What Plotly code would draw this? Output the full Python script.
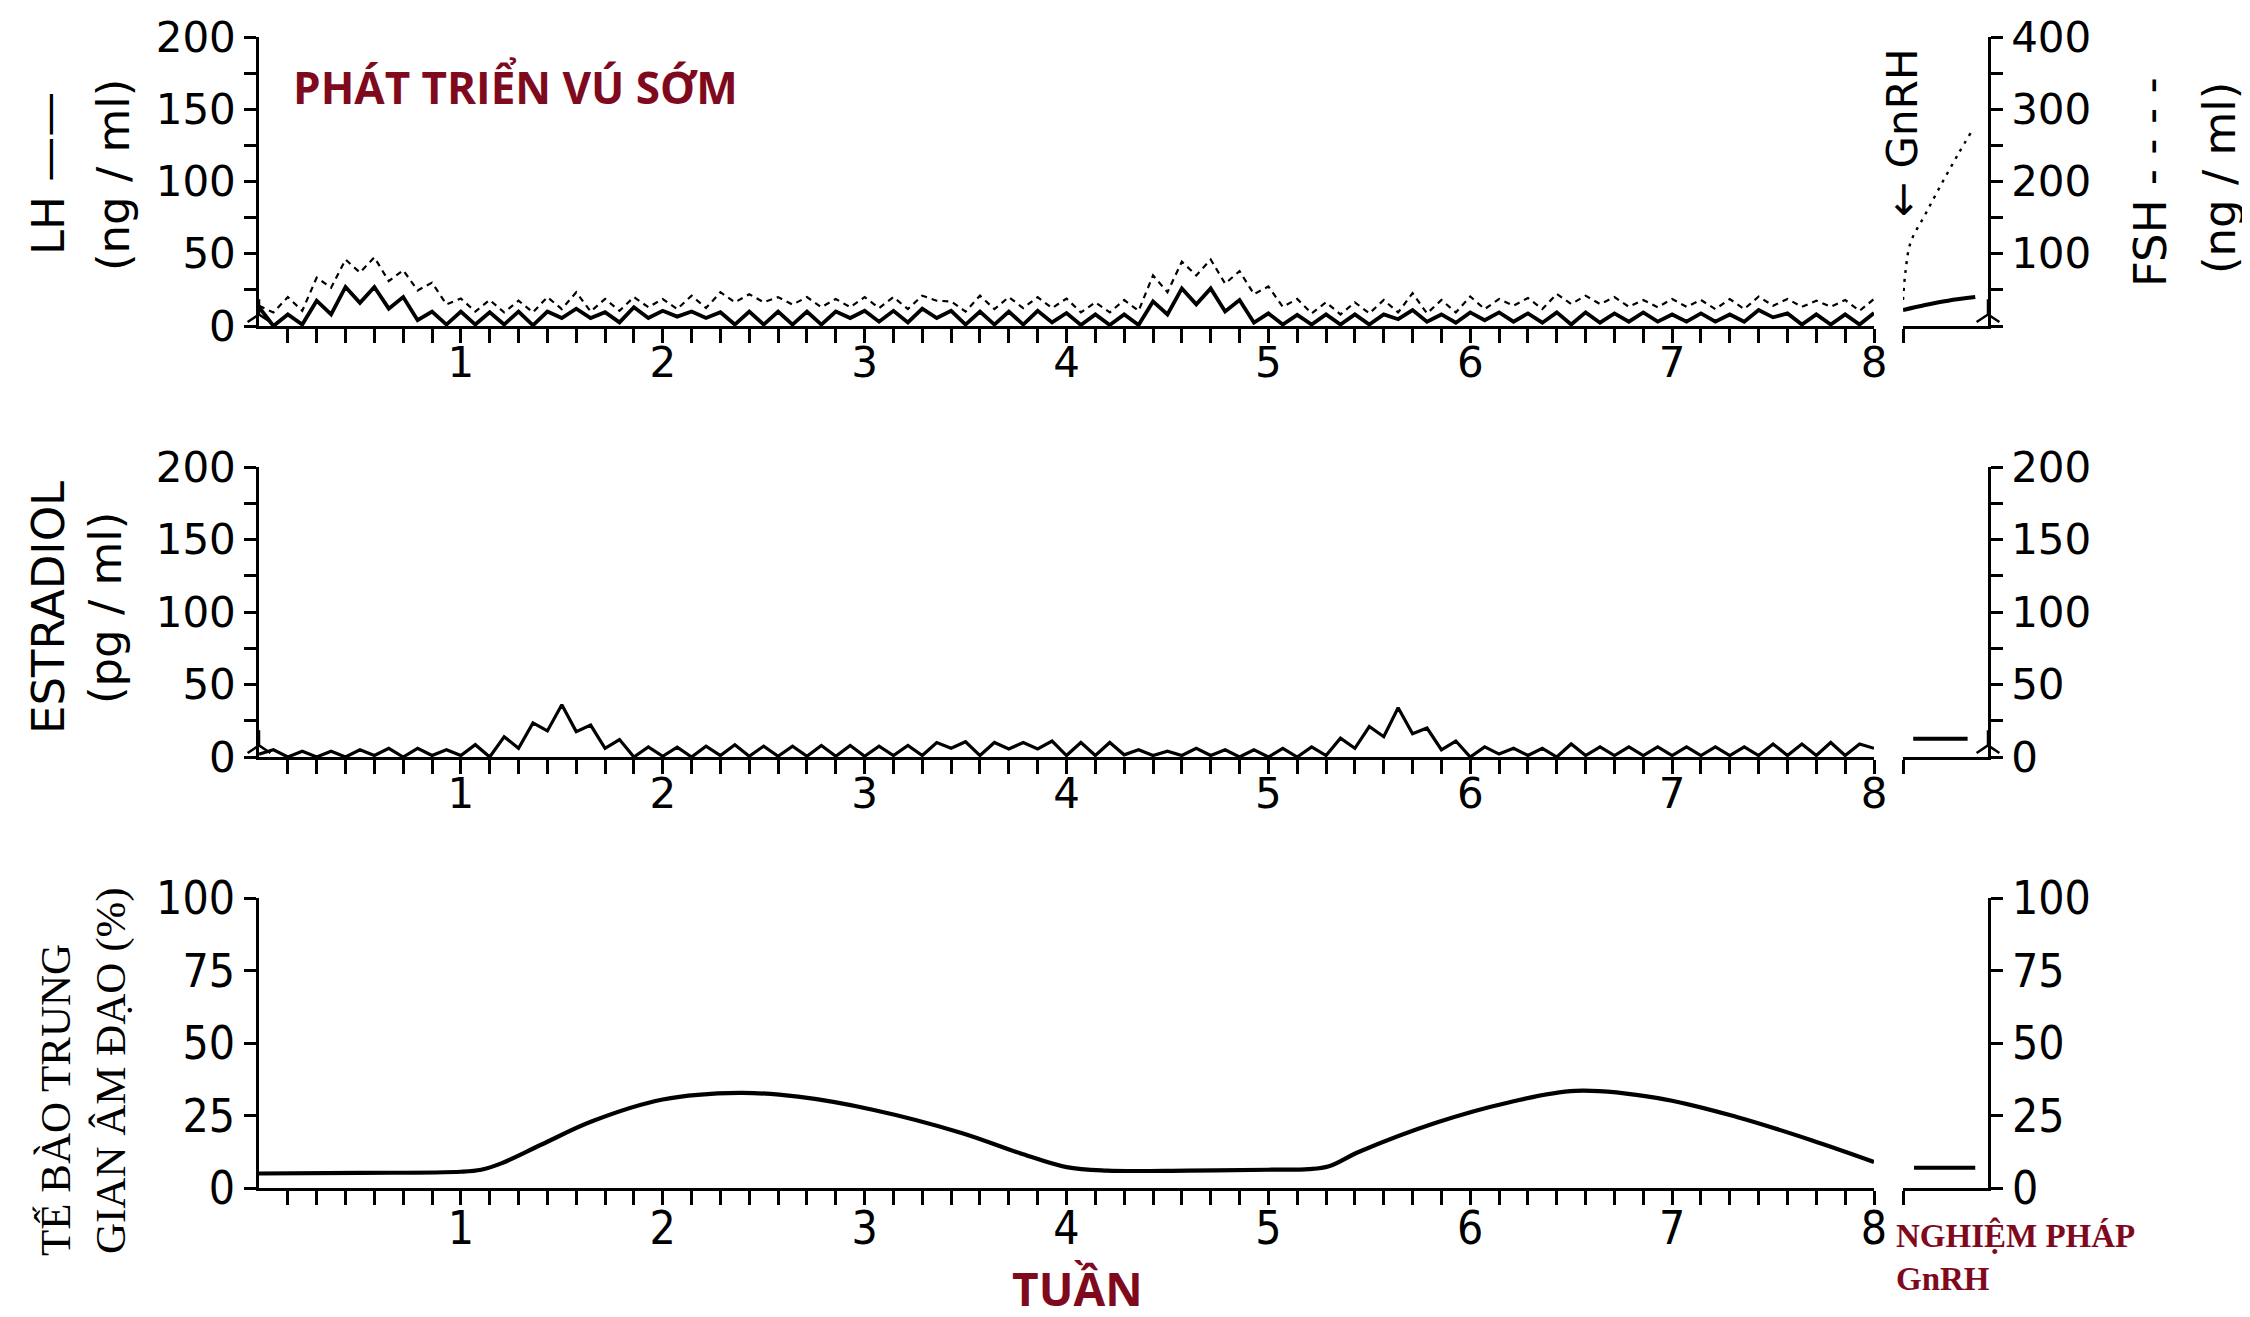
import plotly.graph_objects as go

# ---- data --------------------------------------------------------------
# blood samples every half day over 8 weeks -> 113 samples, x in weeks
SAMPLE_WEEKS = [k / 14 for k in range(113)]

LH = [13, 0, 8, 1, 17.5, 8, 27, 16, 27, 12, 20, 4, 10, 1, 10, 1, 9.5, 1, 10, 0.5,
      10, 5.5, 12, 5.5, 9.5, 2.5, 13, 5.5, 10.5, 6.5, 10, 5.5, 9.5, 1, 10, 1, 10, 1,
      10, 1, 10, 5.5, 10.5, 3, 10.5, 2.5, 12, 5.5, 10.5, 1, 10, 1, 10, 1, 10.5, 2.5, 9,
      0.7, 8, 0.7, 8, 0.7, 17, 8, 26, 15, 26, 10, 18, 2.3, 8.7, 1, 7.7, 1, 8, 1, 8, 1,
      8, 4.7, 11, 3, 8, 2.3, 9.4, 4, 9.4, 3, 8.7, 2.3, 9.4, 1, 9.4, 2.3, 8.7, 3, 9.4,
      3, 8, 3, 8.7, 3, 8, 3, 11, 6, 8.7, 1, 8, 1, 8, 1, 9]

FSH = [14, 9.4, 20, 10.5, 33.5, 26.5, 46, 37, 47.5, 31, 38.6, 24.6, 30, 15, 19, 10,
       18, 9.4, 17.5, 9.4, 20, 11.7, 23.4, 10, 18.7, 10.5, 20, 13, 18.7, 11.7, 21,
       12.4, 23.4, 16.4, 22, 16.4, 20, 14.8, 20, 13, 18.7, 13, 20, 12.4, 20, 11.7, 21,
       17.5, 17, 10, 21, 11.7, 20, 12.4, 20, 12.4, 19,
       9.4, 16.4, 9.4, 18, 10.5, 35, 23.4, 44.5, 35, 46, 29.3, 38, 22, 27.4, 13.3,
       18.7, 8.7, 16.4, 8, 16.4, 8.7, 18, 9.4, 22.7, 8.7, 18, 9.4, 20.4, 11.7, 18.7,
       14, 19.4, 11.7, 22.2, 15.2, 21, 15.2, 20, 13.3, 18, 13, 18.7, 13.3, 18, 11.7,
       18.7, 11.7, 20.4, 14, 18.7, 13.3, 17.5, 13.3, 18, 10.5, 18.7]

ESTRADIOL = [2, 5, 0, 4, 0, 4, 0, 5, 1, 6, 0, 6, 1, 5, 1,
             8.5, 0, 14, 6, 23.5, 18, 36, 17.5, 22, 6, 12, 0, 7, 0.5,
             6.75, 0, 7.5, 1, 8.5, 0.5, 7.5, 0.5, 7.5, 0.5, 8, 0.5, 8, 0.5, 7.5, 1, 8,
             1, 10, 6, 10.5, 1, 10, 5.5, 10, 5.5, 11, 1, 10, 1, 10, 1.5, 5, 1, 4, 1, 6,
             1, 5,
             0, 5, 0, 6, 0, 7, 1, 13, 6, 21, 14, 34, 16, 20, 5, 11, 0, 7, 2, 6, 1, 6, 0,
             9, 1, 7, 1, 7, 1, 7, 1, 7, 1, 7, 1, 7, 1, 9, 1, 9, 1, 10, 1, 9, 6]

# vaginal intermediate cells (%), smooth curve
CELL_WEEKS = [0, 0.5, 1.0, 1.1, 1.2, 1.4, 1.65, 2.0, 2.38, 2.67, 3.04, 3.48, 3.77,
              4.0, 4.2, 4.6, 5.0, 5.2, 5.3, 5.45, 5.83, 6.19, 6.52, 6.93, 7.32, 7.69, 8.0]
CELL_PCT = [5, 5.2, 5.6, 6.3, 8.5, 15, 23, 30.5, 32.8, 31.5, 27, 19, 12,
            7.2, 6, 6, 6.3, 6.5, 7.5, 12.5, 22.5, 29.5, 33.5, 31, 24.5, 16.5, 9]

# GnRH stimulation test (own small time axis, 0..1)
GNRH_FSH_T = [0.0, 0.03, 0.09, 0.26, 0.45, 0.65, 0.8]
GNRH_FSH = [18, 38, 58, 77, 98, 119, 134]          # left-axis units (= FSH / 2)
GNRH_LH_T = [0.0, 0.26, 0.53, 0.85]
GNRH_LH = [11, 14.5, 17.5, 20]
GNRH_E2_T = [0.12, 0.76]
GNRH_E2 = [12.5, 12.5]
GNRH_CELL_T = [0.13, 0.85]
GNRH_CELL = [7, 7]

WEEK_LABELS = ["1", "2", "3", "4", "5", "6", "7", "8"]
HORMONE_TICKS = [0, 25, 50, 75, 100, 125, 150, 175, 200]
PCT_TICKS = [0, 25, 50, 75, 100]

# ---- styling -------------------------------------------------------------
W, H = 2250, 1317
SANS = "DejaVu Sans"
NARROW = "Liberation Sans Narrow, DejaVu Sans Condensed, sans-serif"
SERIF = "Liberation Serif, serif"
RED = "#7f0a1e"


def px_x(p):
    return p / W


def px_y(p):
    return 1 - p / H


MAIN_X = [px_x(251), px_x(1866)]
GNRH_X = [px_x(1895), px_x(1980)]
ROWS = {
    "top": [px_y(318), px_y(29)],
    "mid": [px_y(749), px_y(459)],
    "bot": [px_y(1180), px_y(890)],
}

day_vals = [d / 7 for d in range(1, 57)]
day_text = [WEEK_LABELS[d // 7 - 1] if d % 7 == 0 else "" for d in range(1, 57)]

fig = go.Figure()


def week_axis(anchor, font):
    return dict(domain=MAIN_X, anchor=anchor, range=[0, 8], showgrid=False,
                zeroline=False, showline=True, linecolor="black", linewidth=2.5,
                ticks="outside", ticklen=14, tickwidth=2.5, tickcolor="black",
                tickvals=day_vals, ticktext=day_text, tickfont=font,
                ticklabelstandoff=-16, fixedrange=True, automargin=False)


def gnrh_axis(anchor):
    return dict(domain=GNRH_X, anchor=anchor, range=[0, 1], showgrid=False,
                zeroline=False, showline=True, linecolor="black", linewidth=2.5,
                ticks="outside", ticklen=14, tickwidth=2.5, tickcolor="black",
                tickvals=[0], ticktext=[""], automargin=False)


def value_axis(row, anchor, side, rng, vals, text, font):
    return dict(domain=ROWS[row], anchor=anchor, side=side, range=rng,
                showgrid=False, zeroline=False, showline=True, linecolor="black",
                linewidth=2.5, ticks="outside", ticklen=12, tickwidth=2.5,
                tickcolor="black", tickvals=vals, ticktext=text, tickfont=font,
                automargin=False)


tick_font = dict(family=SANS, size=42, color="black")
narrow_font = dict(family=NARROW, size=46, color="black")

left_hormone_text = [str(v) if v % 50 == 0 else "" for v in HORMONE_TICKS]
fsh_text = [str(2 * v) if v % 50 == 0 and v > 0 else "" for v in HORMONE_TICKS]
pct_text = [str(v) for v in PCT_TICKS]

fig.update_layout(
    xaxis=week_axis("y", tick_font),
    yaxis=value_axis("top", "x", "left", [0, 200], HORMONE_TICKS, left_hormone_text, tick_font),
    xaxis2=gnrh_axis("y2"),
    yaxis2=value_axis("top", "x2", "right", [0, 200], HORMONE_TICKS, fsh_text, tick_font),
    xaxis3=week_axis("y3", tick_font),
    yaxis3=value_axis("mid", "x3", "left", [0, 200], HORMONE_TICKS, left_hormone_text, tick_font),
    xaxis4=gnrh_axis("y4"),
    yaxis4=value_axis("mid", "x4", "right", [0, 200], HORMONE_TICKS, left_hormone_text, tick_font),
    xaxis5=week_axis("y5", narrow_font),
    yaxis5=value_axis("bot", "x5", "left", [0, 100], PCT_TICKS, pct_text, narrow_font),
    xaxis6=gnrh_axis("y6"),
    yaxis6=value_axis("bot", "x6", "right", [0, 100], PCT_TICKS, pct_text, narrow_font),
)

# ---- traces ---------------------------------------------------------------
def line(x, y, xa, ya, width, dash="solid", shape="linear"):
    fig.add_trace(go.Scatter(x=x, y=y, xaxis=xa, yaxis=ya, mode="lines",
                             line=dict(color="black", width=width, dash=dash, shape=shape),
                             showlegend=False, hoverinfo="skip"))


line(SAMPLE_WEEKS, FSH, "x", "y", 2.2, dash="6px,5px")
line(SAMPLE_WEEKS, LH, "x", "y", 3.8)
line(GNRH_FSH_T, GNRH_FSH, "x2", "y2", 2.4, dash="3px,6px", shape="spline")
line(GNRH_LH_T, GNRH_LH, "x2", "y2", 4, shape="spline")

line(SAMPLE_WEEKS, ESTRADIOL, "x3", "y3", 3.2)
line(GNRH_E2_T, GNRH_E2, "x4", "y4", 4)

line(CELL_WEEKS, CELL_PCT, "x5", "y5", 4.2, shape="spline")
line(GNRH_CELL_T, GNRH_CELL, "x6", "y6", 4)

# axis-break symbols at the foot of the hormone axes
BREAK_MARKS = [([0], [8], "x", "y"), ([1], [8], "x2", "y2"),
               ([0], [8], "x3", "y3"), ([1], [8], "x4", "y4")]
for bx, by, xa, ya in BREAK_MARKS:
    fig.add_trace(go.Scatter(x=bx, y=by, xaxis=xa, yaxis=ya, mode="markers",
                             marker=dict(symbol="y-up", size=19, color="black",
                                         line=dict(color="black", width=2.5)),
                             cliponaxis=False, showlegend=False, hoverinfo="skip"))

# ---- text -----------------------------------------------------------------
def note(text, x, y, font, angle=0, xanchor="center", yanchor="middle"):
    fig.add_annotation(text=text, x=px_x(x), y=px_y(y), xref="paper", yref="paper",
                       showarrow=False, textangle=angle, font=font,
                       xanchor=xanchor, yanchor=yanchor)


title_font = dict(family=SANS, size=45, color="black")
note("LH ——", 40, 166, title_font, angle=-90)
note("(ng / ml)", 105, 167, title_font, angle=-90)
note("ESTRADIOL", 40, 600, title_font, angle=-90)
note("(pg / ml)", 97, 600, title_font, angle=-90)
note("FSH - - - -", 2143, 174, title_font, angle=-90)
note("(ng / ml)", 2212, 170, title_font, angle=-90)
note("← GnRH", 1895, 125, dict(family=SANS, size=42, color="black"), angle=-90)

serif_font = dict(family=SERIF, size=43, color="black")
note("TẾ BÀO TRUNG", 47, 1092, serif_font, angle=-90)
note("GIAN ÂM ĐẠO (%)", 103, 1063, serif_font, angle=-90)

note("<b>PHÁT TRIỂN VÚ SỚM</b>", 283, 79,
     dict(family="Open Sans", size=44, color=RED), xanchor="left")
note("<b>TUẦN</b>", 1069, 1280, dict(family="Open Sans", size=46, color=RED))
note("<b>NGHIỆM PHÁP</b>", 1886, 1227, dict(family=SERIF, size=33, color=RED),
     xanchor="left")
note("<b>GnRH</b>", 1886, 1271, dict(family=SERIF, size=33, color=RED), xanchor="left")

fig.update_layout(width=W, height=H, autosize=False,
                  margin=dict(l=0, r=0, t=0, b=0),
                  paper_bgcolor="white", plot_bgcolor="white")

fig.write_html("out.html")
